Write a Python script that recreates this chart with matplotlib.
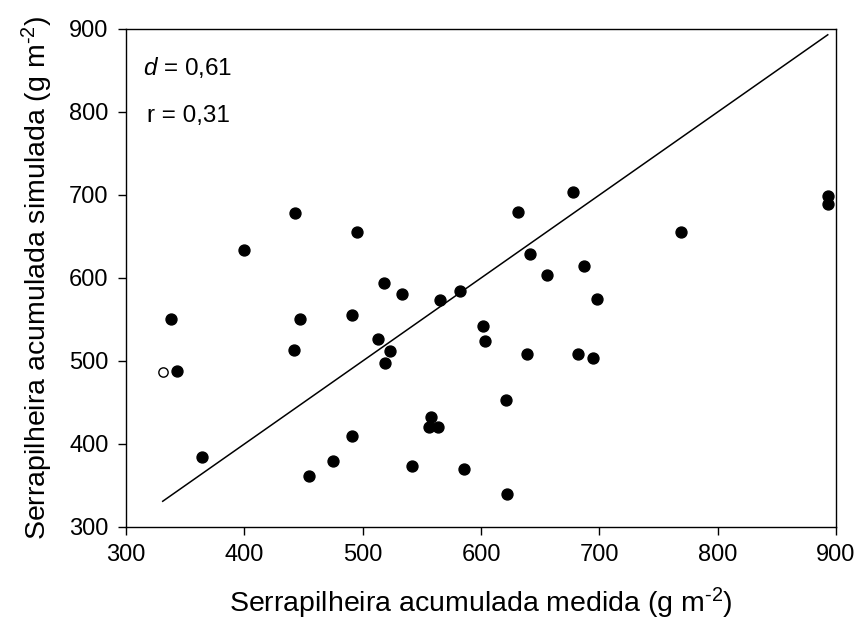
import matplotlib
matplotlib.use('Agg')
import matplotlib.pyplot as plt

plt.rcParams['font.family'] = ['Liberation Sans', 'DejaVu Sans']
plt.rcParams['mathtext.fontset'] = 'custom'
plt.rcParams['mathtext.rm'] = 'Liberation Sans'
plt.rcParams['mathtext.it'] = 'Liberation Sans:italic'
plt.rcParams['mathtext.default'] = 'regular'

# measured vs simulated litter (g m-2), filled points
medida = [400, 443, 495, 518, 533, 565, 582, 678, 631, 893, 893, 769, 641, 687,
          656, 698, 338, 343, 364, 447, 442, 491, 513, 523, 519, 455, 475, 491,
          542, 558, 556, 564, 586, 602, 603, 639, 682, 695, 621, 622]
simulada = [634, 678, 656, 594, 581, 574, 584, 703, 679, 699, 689, 656, 629, 615,
            603, 575, 550, 488, 384, 550, 513, 555, 526, 512, 497, 362, 380, 410,
            374, 433, 421, 421, 370, 542, 524, 508, 508, 504, 453, 340]

# open point
medida_aberto = [331]
simulada_aberto = [487]

fig = plt.figure(figsize=(8.58, 6.30), dpi=100)
ax = fig.add_axes([0.1469, 0.1635, 0.8275, 0.7905])

# 1:1 line over the data range
xmin = min(medida + medida_aberto)
xmax = max(medida + medida_aberto)
ax.plot([xmin, xmax], [xmin, xmax], color='black', lw=1.1, zorder=1)

ax.scatter(medida, simulada, s=62, color='black', zorder=3)
ax.scatter(medida_aberto, simulada_aberto, s=45, facecolor='white',
           edgecolor='black', linewidth=1.0, zorder=3)

ax.set_xlim(300, 900)
ax.set_ylim(300, 900)
ax.set_xticks(range(300, 901, 100))
ax.set_yticks(range(300, 901, 100))
ax.tick_params(direction='out', length=5.5, width=1, labelsize=17, pad=7)
for s in ax.spines.values():
    s.set_linewidth(1.0)

ax.text(0.024, 0.907, '$\\it{d}$ = 0,61', transform=ax.transAxes, fontsize=17.5)
ax.text(0.030, 0.814, 'r = 0,31', transform=ax.transAxes, fontsize=17.5)

sup = '$^{\\text{-}2}$'
ax.set_xlabel('Serrapilheira acumulada medida (g m' + sup + ')', fontsize=20.5, labelpad=14)
ax.set_ylabel('Serrapilheira acumulada simulada (g m' + sup + ')', fontsize=20.5, labelpad=10)

fig.savefig('out.png', dpi=100)
